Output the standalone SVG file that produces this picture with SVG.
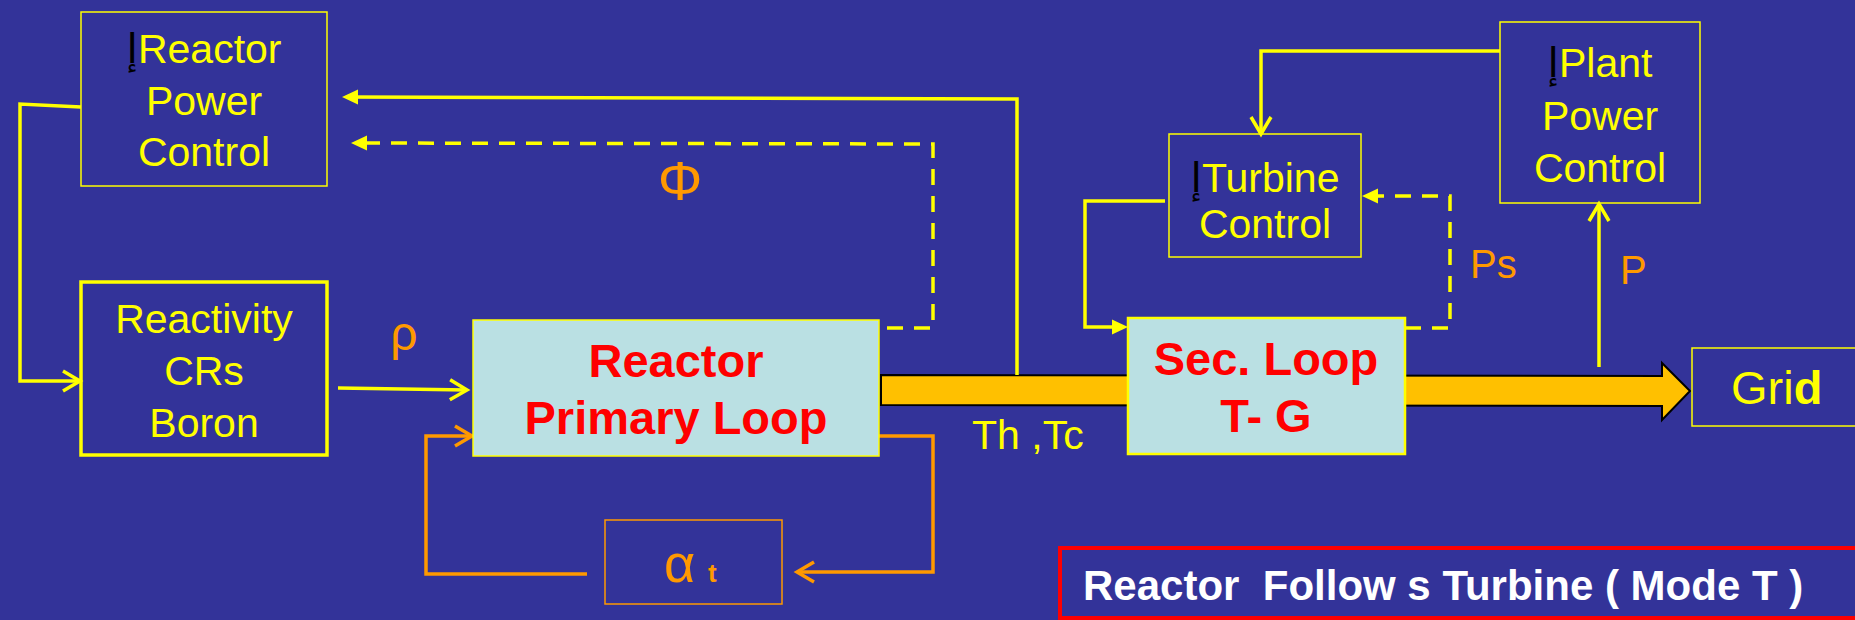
<svg xmlns="http://www.w3.org/2000/svg" width="1855" height="620" viewBox="0 0 1855 620">
<style>
  .t { font-family: "Liberation Sans", "DejaVu Sans", Arial, sans-serif; }
  .yl { fill: #ffff00; font-size: 41px; text-anchor: middle; }
  .rd { fill: #ff0000; font-size: 47px; font-weight: bold; text-anchor: middle; }
  .or { fill: #ff9900; }
  .blk { fill: #000000; }
  .box { fill: none; stroke: #ffff00; stroke-width: 1.5; }
  .thick { stroke-width: 3.5; }
  .cbox { fill: #bae0e3; stroke: #ffff00; }
  .ln { fill: none; stroke: #ffff00; stroke-width: 3.5; stroke-linejoin: miter; }
  .dash { stroke-dasharray: 16 11; }
  .oln { fill: none; stroke: #ff9900; stroke-width: 3.5; }
</style>
<defs>
  <marker id="chevY" markerUnits="userSpaceOnUse" markerWidth="30" markerHeight="30" viewBox="-25 -15 30 30" refX="0" refY="0" orient="auto">
    <path d="M-17,-10 L0,0 L-17,10" fill="none" stroke="#ffff00" stroke-width="3.5"/>
  </marker>
  <marker id="chevO" markerUnits="userSpaceOnUse" markerWidth="30" markerHeight="30" viewBox="-25 -15 30 30" refX="0" refY="0" orient="auto">
    <path d="M-17,-10 L0,0 L-17,10" fill="none" stroke="#ff9900" stroke-width="3.5"/>
  </marker>
  <marker id="triY" markerUnits="userSpaceOnUse" markerWidth="30" markerHeight="20" viewBox="-20 -10 30 20" refX="0" refY="0" orient="auto">
    <path d="M-10,-7.5 L6,0 L-10,7.5 Z" fill="#ffff00"/>
  </marker>
</defs>
<rect x="0" y="0" width="1855" height="620" fill="#333399"/>

<g id="connectors">
  <polygon points="881,375 1662,376 1662,363 1690,391 1662,420 1662,406 881,405" fill="#ffc000" stroke="#000000" stroke-width="2"/>
  <polyline class="ln" points="1017,375 1017,99 348,97" marker-end="url(#triY)"/>
  <polyline class="ln dash" points="887,328 933,328 933,144 357,143" marker-end="url(#triY)"/>
  <polyline class="ln" points="81,107 20,104 20,381 80,381" marker-end="url(#chevY)"/>
  <polyline class="ln" points="338,388 467,390" marker-end="url(#chevY)"/>
  <polyline class="oln" points="879,436 933,436 933,572 797,572" marker-end="url(#chevO)"/>
  <polyline class="oln" points="587,574 426,574 426,436 472,436" marker-end="url(#chevO)"/>
  <polyline class="ln" points="1165,201 1085,201 1085,327 1122,327" marker-end="url(#triY)"/>
  <polyline class="ln dash" points="1405,328 1450,328 1450,196 1368,196" marker-end="url(#triY)"/>
  <polyline class="ln" points="1500,51 1261,51 1261,134" marker-end="url(#chevY)"/>
  <polyline class="ln" points="1599,367 1599,204" marker-end="url(#chevY)"/>
</g>

<g id="reactor-power-control">
  <rect class="box" x="81" y="12" width="246" height="174"/>
  <text class="t yl" x="204" y="63"><tspan class="blk">إ</tspan>Reactor</text>
  <text class="t yl" x="204" y="115">Power</text>
  <text class="t yl" x="204" y="166">Control</text>
</g>

<g id="reactivity">
  <rect class="box thick" x="81" y="282" width="246" height="173"/>
  <text class="t yl" x="204" y="333">Reactivity</text>
  <text class="t yl" x="204" y="385">CRs</text>
  <text class="t yl" x="204" y="437">Boron</text>
</g>

<g id="reactor-primary-loop">
  <rect class="cbox" x="473" y="320" width="406" height="136" stroke-width="1.5"/>
  <text class="t rd" x="676" y="377">Reactor</text>
  <text class="t rd" x="676" y="434">Primary Loop</text>
</g>

<g id="alpha-t">
  <rect x="605" y="520" width="177" height="84" fill="none" stroke="#ff9900" stroke-width="1.5"/>
  <text class="t or" x="664" y="582" font-size="54">α</text>
  <text class="t or" x="708" y="582" font-size="26" font-weight="bold">t</text>
</g>

<g id="sec-loop">
  <rect class="cbox" x="1128" y="318" width="277" height="136" stroke-width="2.5"/>
  <text class="t rd" x="1266" y="375">Sec. Loop</text>
  <text class="t rd" x="1266" y="432">T- G</text>
</g>

<g id="turbine-control">
  <rect class="box" x="1169" y="134" width="192" height="123"/>
  <text class="t yl" x="1265" y="192" font-size="36"><tspan class="blk">إ</tspan>Turbine</text>
  <text class="t yl" x="1265" y="238" font-size="36">Control</text>
</g>

<g id="plant-power-control">
  <rect class="box" x="1500" y="22" width="200" height="181"/>
  <text class="t yl" x="1600" y="77"><tspan class="blk">إ</tspan>Plant</text>
  <text class="t yl" x="1600" y="130">Power</text>
  <text class="t yl" x="1600" y="182">Control</text>
</g>

<g id="grid">
  <rect class="box" x="1692" y="348" width="170" height="78"/>
  <text class="t" x="1731" y="404" font-size="47" fill="#ffff00">Gri<tspan font-weight="bold">d</tspan></text>
</g>

<g id="labels">
  <text class="t or" x="680" y="200" font-size="56" text-anchor="middle">Φ</text>
  <text class="t or" x="404" y="350" font-size="48" text-anchor="middle">ρ</text>
  <text class="t or" x="1470" y="278" font-size="40">Ps</text>
  <text class="t or" x="1620" y="284" font-size="40">P</text>
  <text class="t" x="972" y="449" font-size="41" fill="#ffff00">Th ,Tc</text>
</g>

<g id="mode-caption">
  <rect x="1060" y="548" width="800" height="70" fill="none" stroke="#ff0000" stroke-width="4"/>
  <text class="t" x="1083" y="600" font-size="42" font-weight="bold" fill="#ffffff" xml:space="preserve">Reactor  Follow s Turbine ( Mode T )</text>
</g>
</svg>
